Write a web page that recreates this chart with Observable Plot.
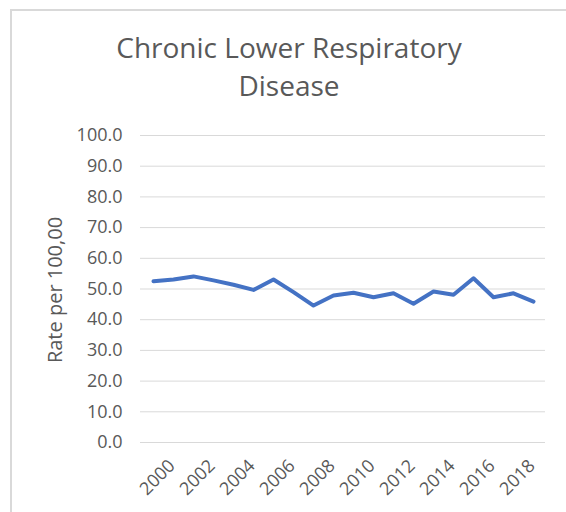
<!DOCTYPE html>
<html>
<head>
<meta charset="utf-8">
<script src="https://cdn.jsdelivr.net/npm/d3@7"></script>
<script src="https://cdn.jsdelivr.net/npm/@observablehq/plot@0.6"></script>
<style>
  html, body { margin: 0; padding: 0; background: #fff; }
  #frame {
    margin-left: 10px; margin-top: 9px;
    border-top: 2px solid #d9d9d9; border-left: 2px solid #d9d9d9;
    width: 554px; height: 501px; overflow: hidden;
  }
  #title {
    font-family: "Open Sans", sans-serif; font-size: 28px; line-height: 38px;
    color: #595959; text-align: center; padding-top: 17px; margin: 0;
  }
  #chart svg { display: block; }
</style>
</head>
<body>
<div id="frame">
  <div id="title">Chronic Lower Respiratory<br>Disease</div>
  <div id="chart"></div>
</div>
<script>
const years = [2000, 2001, 2002, 2003, 2004, 2005, 2006, 2007, 2008, 2009,
               2010, 2011, 2012, 2013, 2014, 2015, 2016, 2017, 2018, 2019];
const rates = [52.5, 53.1, 54.1, 52.8, 51.4, 49.7, 53.1, 49.0, 44.6, 47.9,
               48.8, 47.3, 48.6, 45.2, 49.2, 48.1, 53.5, 47.3, 48.6, 45.9];
const labeledYears = [2000, 2002, 2004, 2006, 2008, 2010, 2012, 2014, 2016, 2018];
const yTicks = [0, 10, 20, 30, 40, 50, 60, 70, 80, 90, 100];
const yTitle = "Rate per 100,00";

const data = years.map((y, i) => ({year: y, rate: rates[i]}));

const chart = Plot.plot({
  width: 554,
  height: 397,
  marginLeft: 128,
  marginRight: 21,
  marginTop: 31,
  marginBottom: 59,
  style: {fontFamily: "Open Sans, sans-serif", fontSize: "18px", color: "#595959", background: "white"},
  x: {type: "point", domain: years, padding: 0.5},
  y: {domain: [0, 100]},
  marks: [
    Plot.gridY(yTicks, {stroke: "#d9d9d9", strokeOpacity: 1, strokeWidth: 1}),
    Plot.axisY(yTicks, {tickSize: 0, tickPadding: 18, tickFormat: d3.format(".1f"), label: null, fontSize: 18}),
    Plot.axisX(labeledYears, {tickSize: 0, tickPadding: 0, tickRotate: -45, textAnchor: "middle", lineAnchor: "middle",
      dy: 35, dx: 4, tickFormat: d => String(d), label: null, fontSize: 18}),
    Plot.text([yTitle], {frameAnchor: "left", textAnchor: "middle", rotate: -90, dx: -85, dy: 1, fontSize: 20, fill: "#595959", text: d => d}),
    Plot.line(data, {x: "year", y: "rate", stroke: "#4472C4", strokeWidth: 4, strokeLinejoin: "round", strokeLinecap: "round"})
  ]
});
document.getElementById("chart").appendChild(chart);
</script>
</body>
</html>
